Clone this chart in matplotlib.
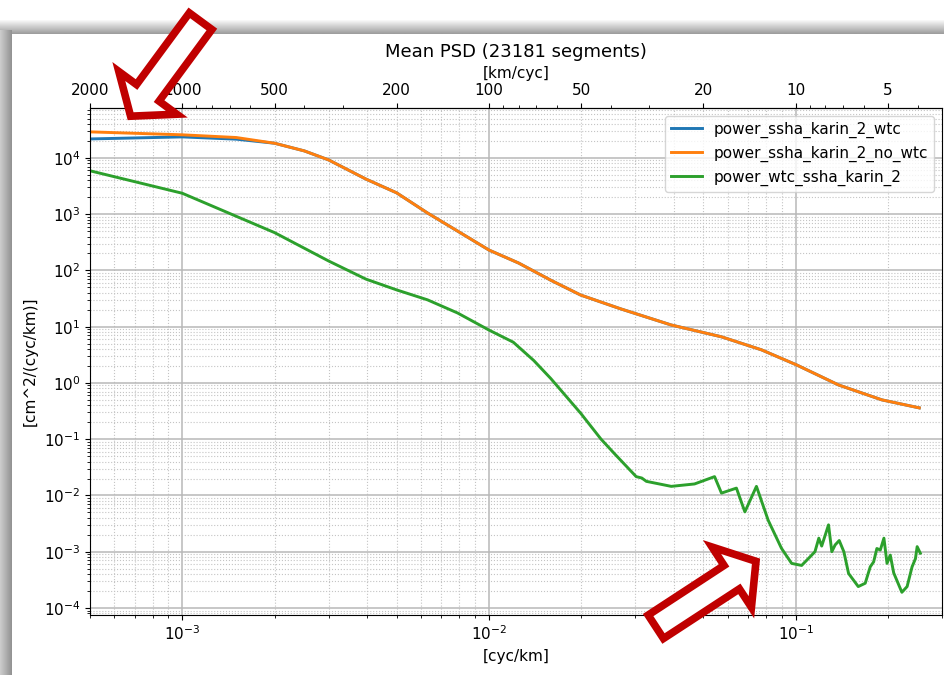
import numpy as np
import matplotlib
matplotlib.use("Agg")
import matplotlib.pyplot as plt
from matplotlib.patches import Polygon
from matplotlib.ticker import LogLocator, NullFormatter

plt.rcParams['font.family'] = ['DejaVu Sans']
plt.rcParams['font.size'] = 11

# spectra read along wavenumber [cyc/km]
freq_blue = [5e-4, 1e-3, 1.5e-3, 2e-3]
psd_blue = [2.17e4, 2.36e4, 2.15e4, 1.82e4]

freq_orange = [5e-4, 1e-3, 1.5e-3, 2e-3, 2.5e-3, 3e-3, 3.97e-3, 5e-3, 6.3e-3, 7.9e-3,
               1e-2, 1.25e-2, 1.59e-2, 1.99e-2, 2.69e-2, 3.93e-2, 5.73e-2, 7.74e-2,
               0.1007, 0.138, 0.191, 0.253]
psd_orange = [2.9e4, 2.57e4, 2.3e4, 1.82e4, 1.33e4, 9.2e3, 4.2e3, 2.39e3, 1.05e3, 500,
              230, 135, 67, 36.5, 20.7, 10.7, 6.6, 3.87,
              2.09, 0.92, 0.5, 0.36]

freq_green = [5e-4, 1e-3, 2e-3, 3e-3, 3.97e-3, 5e-3, 6.3e-3, 7.9e-3, 1e-2, 1.2e-2,
              1.4e-2, 0.0159, 0.0199, 0.0232, 0.0256, 0.0302, 0.0315, 0.0326, 0.0393, 0.0468,
              0.0544, 0.0573, 0.0641, 0.0683, 0.0745, 0.0814, 0.0899, 0.097, 0.1046, 0.1114,
              0.1156, 0.119, 0.1216, 0.128, 0.1312, 0.1345, 0.1387, 0.1436, 0.1488, 0.160,
              0.1686, 0.1751, 0.1796, 0.184, 0.1888, 0.194, 0.1986, 0.2035, 0.2088, 0.222,
              0.2309, 0.2397, 0.2458, 0.249, 0.255]
psd_green = [5.9e3, 2.35e3, 469, 147, 70, 45, 30, 17.5, 8.7, 5.3,
             2.5, 1.2, 0.29, 0.1, 0.056, 0.0216, 0.0204, 0.0178, 0.0145, 0.016,
             0.0216, 0.011, 0.0135, 0.0051, 0.0145, 3.6e-3, 1.15e-3, 6.2e-4, 5.7e-4, 8.1e-4,
             1.0e-3, 1.74e-3, 1.26e-3, 3.0e-3, 1.0e-3, 1.32e-3, 1.58e-3, 1.0e-3, 4.1e-4, 2.4e-4,
             2.75e-4, 5.4e-4, 6.6e-4, 1.14e-3, 1.07e-3, 1.74e-3, 6.2e-4, 8.7e-4, 4.2e-4, 1.9e-4,
             2.4e-4, 5.4e-4, 7.5e-4, 1.23e-3, 9.4e-4]

km_ticks = [2000, 1000, 500, 200, 100, 50, 20, 10, 5]

# blue follows the orange curve once the two merge
freq_wtc = freq_blue + freq_orange[4:]
psd_wtc = psd_blue + psd_orange[4:]


def inverse(x):
    x = np.array(x, dtype=float)
    with np.errstate(divide='ignore'):
        return 1.0 / x


fig, ax = plt.subplots(figsize=(9.45, 6.75), dpi=100)
fig.subplots_adjust(left=0.0952, right=0.9968, bottom=0.0889, top=0.84)

ax.loglog(freq_wtc, psd_wtc, lw=2.1, color='#1f77b4', label='power_ssha_karin_2_wtc')
ax.loglog(freq_orange, psd_orange, lw=2.1, color='#ff7f0e', label='power_ssha_karin_2_no_wtc')
ax.loglog(freq_green, psd_green, lw=2.1, color='#2ca02c', label='power_wtc_ssha_karin_2')

ax.set_xlim(5e-4, 0.3)
ax.set_ylim(7.5e-5, 7.7e4)
for axis in (ax.xaxis, ax.yaxis):
    axis.set_major_locator(LogLocator(base=10, numticks=30))
    axis.set_minor_locator(LogLocator(base=10, subs=np.arange(2, 10), numticks=100))
    axis.set_minor_formatter(NullFormatter())

ax.grid(which='major', color='#b8b8b8', lw=1.1)
ax.grid(which='minor', color='#c4c4c4', lw=0.8, ls=':')

ax.set_xlabel('[cyc/km]')
ax.set_ylabel('[cm^2/(cyc/km)]')
ax.legend(loc='upper right', fontsize=11)

secax = ax.secondary_xaxis('top', functions=(inverse, inverse))
secax.set_xticks(km_ticks)
secax.set_xticklabels([str(k) for k in km_ticks])
secax.xaxis.set_minor_formatter(NullFormatter())
secax.set_xlabel('[km/cyc]')
ax.set_title('Mean PSD (23181 segments)', fontsize=13)

# window shadow behind the plot
bg = fig.add_axes([0, 0, 1, 1], zorder=-1)
bg.set_xlim(0, 945)
bg.set_ylim(675, 0)
bg.axis('off')
top_band = np.linspace(0.97, 0.62, 14)[:, None] * np.ones((1, 4))
bg.imshow(top_band, cmap='gray', vmin=0, vmax=1, extent=(0, 945, 34, 20),
          aspect='auto', interpolation='bilinear')
left_band = np.ones((4, 1)) * np.linspace(0.80, 0.58, 12)[None, :]
bg.imshow(left_band, cmap='gray', vmin=0, vmax=1, extent=(0, 12, 675, 30),
          aspect='auto', interpolation='bilinear')

# callout arrows drawn over the figure
ov = fig.add_axes([0, 0, 1, 1], zorder=10)
ov.set_xlim(0, 945)
ov.set_ylim(675, 0)
ov.axis('off')
ov.patch.set_alpha(0)


def block_arrow(tail, tip, w=14, hw=36, hl=29):
    t = np.array(tail, dtype=float)
    p = np.array(tip, dtype=float)
    d = (p - t) / np.hypot(*(p - t))
    n = np.array([-d[1], d[0]])
    b = p - hl * d
    pts = [t + w * n, b + w * n, b + hw * n, p, b - hw * n, b - w * n, t - w * n]
    return Polygon(pts, closed=True, fc='white', ec='#c00000', lw=5.5, joinstyle='miter')


ov.add_patch(block_arrow((200.6, 21.2), (130.6, 116.2)))
ov.add_patch(block_arrow((655.8, 626.8), (756.0, 561.3)))

fig.savefig('out.png', dpi=100)
